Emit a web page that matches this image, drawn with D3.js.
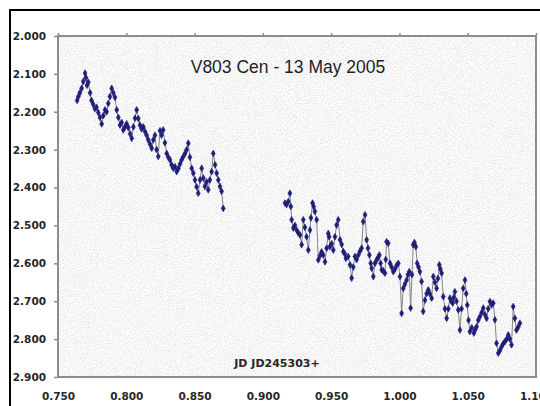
<!DOCTYPE html>
<html>
<head>
<meta charset="utf-8">
<script src="https://cdn.jsdelivr.net/npm/d3@7"></script>
<style>
  body { margin: 0; background: #fff; }
  svg { display: block; }
</style>
</head>
<body>
<div id="chart"></div>
<script>
(() => {
    // observing run 1 : [JD fraction, magnitude]
    const run1 = [
        [0.7640, 2.170], [0.7649, 2.160], [0.7660, 2.150], [0.7673, 2.138], [0.7685, 2.120],
        [0.7698, 2.098], [0.7705, 2.110], [0.7712, 2.130], [0.7722, 2.122], [0.7735, 2.150],
        [0.7745, 2.170], [0.7757, 2.180], [0.7770, 2.192], [0.7782, 2.188], [0.7795, 2.202],
        [0.7807, 2.215], [0.7820, 2.232], [0.7832, 2.210], [0.7844, 2.195], [0.7856, 2.200],
        [0.7868, 2.178], [0.7880, 2.160], [0.7893, 2.138], [0.7905, 2.150], [0.7917, 2.162],
        [0.7930, 2.195], [0.7942, 2.215], [0.7954, 2.235], [0.7966, 2.228], [0.7978, 2.248],
        [0.7990, 2.240], [0.8003, 2.232], [0.8015, 2.242], [0.8028, 2.258], [0.8040, 2.270],
        [0.8052, 2.240], [0.8064, 2.217], [0.8076, 2.195], [0.8088, 2.218], [0.8100, 2.235],
        [0.8112, 2.245], [0.8125, 2.240], [0.8137, 2.252], [0.8149, 2.262], [0.8161, 2.274],
        [0.8173, 2.285], [0.8186, 2.296], [0.8198, 2.274], [0.8210, 2.262], [0.8222, 2.300],
        [0.8234, 2.318], [0.8247, 2.250], [0.8258, 2.262], [0.8270, 2.248], [0.8283, 2.282],
        [0.8296, 2.310], [0.8308, 2.320], [0.8320, 2.327], [0.8332, 2.340], [0.8344, 2.349],
        [0.8357, 2.345], [0.8369, 2.358], [0.8381, 2.350], [0.8393, 2.338], [0.8405, 2.327],
        [0.8418, 2.318], [0.8430, 2.310], [0.8442, 2.300], [0.8454, 2.283], [0.8466, 2.320],
        [0.8479, 2.349], [0.8491, 2.362], [0.8503, 2.380], [0.8515, 2.398], [0.8527, 2.415],
        [0.8540, 2.380], [0.8552, 2.349], [0.8564, 2.375], [0.8576, 2.397], [0.8588, 2.385],
        [0.8600, 2.406], [0.8612, 2.380], [0.8625, 2.358], [0.8637, 2.310], [0.8650, 2.340],
        [0.8662, 2.362], [0.8674, 2.380], [0.8686, 2.397], [0.8698, 2.410], [0.8710, 2.455]
    ];

    // observing run 2
    const run2 = [
        [0.9162, 2.441], [0.9174, 2.445], [0.9186, 2.437], [0.9198, 2.415], [0.9205, 2.450],
        [0.9211, 2.485], [0.9223, 2.507], [0.9235, 2.500], [0.9247, 2.512], [0.9260, 2.520],
        [0.9272, 2.525], [0.9284, 2.551], [0.9296, 2.485], [0.9308, 2.505], [0.9320, 2.530],
        [0.9333, 2.565], [0.9345, 2.512], [0.9352, 2.480], [0.9364, 2.441], [0.9372, 2.450],
        [0.9381, 2.463], [0.9394, 2.485], [0.9406, 2.591], [0.9418, 2.580], [0.9430, 2.570],
        [0.9442, 2.578], [0.9455, 2.596], [0.9467, 2.560], [0.9479, 2.521], [0.9485, 2.530],
        [0.9491, 2.556], [0.9504, 2.548], [0.9516, 2.565], [0.9528, 2.530], [0.9540, 2.499],
        [0.9552, 2.485], [0.9565, 2.538], [0.9577, 2.550], [0.9589, 2.569], [0.9600, 2.575],
        [0.9608, 2.587], [0.9625, 2.582], [0.9638, 2.604], [0.9650, 2.639], [0.9662, 2.610],
        [0.9674, 2.582], [0.9687, 2.590], [0.9699, 2.578], [0.9711, 2.568], [0.9723, 2.560],
        [0.9735, 2.490], [0.9748, 2.472], [0.9760, 2.538], [0.9770, 2.560], [0.9780, 2.578],
        [0.9790, 2.600], [0.9797, 2.613], [0.9809, 2.635], [0.9821, 2.600], [0.9833, 2.591],
        [0.9843, 2.585], [0.9853, 2.578], [0.9862, 2.600], [0.9870, 2.617], [0.9882, 2.620],
        [0.9894, 2.626], [0.9900, 2.590], [0.9906, 2.543], [0.9918, 2.547], [0.9931, 2.600],
        [0.9943, 2.610], [0.9955, 2.622], [0.9968, 2.615], [0.9980, 2.605], [0.9992, 2.600],
        [1.0004, 2.635], [1.0016, 2.732], [1.0028, 2.666], [1.0040, 2.655], [1.0053, 2.644],
        [1.0062, 2.630], [1.0072, 2.622], [1.0082, 2.718], [1.0092, 2.630], [1.0101, 2.551],
        [1.0110, 2.545], [1.0120, 2.556], [1.0130, 2.600], [1.0140, 2.610], [1.0150, 2.622],
        [1.0162, 2.648], [1.0174, 2.727], [1.0187, 2.697], [1.0199, 2.680], [1.0211, 2.670],
        [1.0223, 2.680], [1.0236, 2.692], [1.0248, 2.635], [1.0260, 2.650], [1.0272, 2.666],
        [1.0282, 2.640], [1.0292, 2.604], [1.0300, 2.615], [1.0309, 2.626], [1.0321, 2.688],
        [1.0333, 2.720], [1.0346, 2.745], [1.0358, 2.720], [1.0370, 2.692], [1.0380, 2.700],
        [1.0390, 2.705], [1.0398, 2.690], [1.0406, 2.675], [1.0418, 2.700], [1.0431, 2.723],
        [1.0443, 2.776], [1.0455, 2.720], [1.0467, 2.666], [1.0480, 2.644], [1.0489, 2.680],
        [1.0497, 2.710], [1.0506, 2.750], [1.0516, 2.780], [1.0530, 2.770], [1.0545, 2.784],
        [1.0555, 2.775], [1.0565, 2.767], [1.0577, 2.750], [1.0589, 2.741], [1.0602, 2.730],
        [1.0614, 2.718], [1.0626, 2.735], [1.0638, 2.745], [1.0650, 2.720], [1.0663, 2.701],
        [1.0675, 2.710], [1.0687, 2.705], [1.0699, 2.749], [1.0711, 2.811], [1.0724, 2.837],
        [1.0736, 2.830], [1.0748, 2.820], [1.0760, 2.812], [1.0772, 2.807], [1.0785, 2.800],
        [1.0797, 2.789], [1.0809, 2.800], [1.0821, 2.815], [1.0833, 2.714], [1.0845, 2.745],
        [1.0857, 2.776], [1.0870, 2.768], [1.0882, 2.758]
    ];

    const xTicks = [0.75, 0.80, 0.85, 0.90, 0.95, 1.00, 1.05, 1.10];
    const yTicks = [2.0, 2.1, 2.2, 2.3, 2.4, 2.5, 2.6, 2.7, 2.8, 2.9];
    const title = "V803 Cen - 13 May 2005";
    const xTitle = "JD JD245303+";

    /****************************************************************************** */
    const width = 540;
    const height = 406;
    const plot = { left: 58, top: 36, right: 536, bottom: 377 };

    const svg = d3.select("#chart").append("svg")
        .attr("width", width)
        .attr("height", height);

    // speckled background
    const defs = svg.append("defs");
    const f = defs.append("filter")
        .attr("id", "speckle")
        .attr("x", 0).attr("y", 0).attr("width", 1).attr("height", 1);
    f.append("feTurbulence")
        .attr("type", "fractalNoise")
        .attr("baseFrequency", 0.85)
        .attr("numOctaves", 2)
        .attr("seed", 7);
    f.append("feColorMatrix")
        .attr("type", "matrix")
        .attr("values", "0.55 0 0 0 0.65  0.55 0 0 0 0.65  0.55 0 0 0 0.65  0 0 0 0 1");

    // outer frame
    svg.append("rect")
        .attr("x", 10).attr("y", 10)
        .attr("width", width + 10).attr("height", height + 10)
        .attr("fill", "#fff")
        .attr("stroke", "#000")
        .attr("stroke-width", 2);

    const x = d3.scaleLinear()
        .domain([0.75, 1.10])
        .range([plot.left, plot.right]);

    const y = d3.scaleLinear()
        .domain([2.0, 2.9])
        .range([plot.top, plot.bottom]);

    svg.append("rect")
        .attr("x", plot.left).attr("y", plot.top)
        .attr("width", plot.right - plot.left)
        .attr("height", plot.bottom - plot.top)
        .attr("fill", "#e8e8e8")
        .attr("filter", "url(#speckle)");

    svg.append("rect")
        .attr("x", plot.left).attr("y", plot.top)
        .attr("width", plot.right - plot.left)
        .attr("height", plot.bottom - plot.top)
        .attr("fill", "none")
        .attr("stroke", "#8c8c8c")
        .attr("stroke-width", 2);

    /**********************axes *****************************/
    const tickFont = g => g.selectAll("text")
        .attr("font-family", "DejaVu Sans, sans-serif")
        .attr("font-weight", "bold")
        .attr("font-size", "10.5px")
        .attr("fill", "#262626");

    const yAxis = svg.append("g")
        .attr("transform", `translate(${plot.left},0)`)
        .call(d3.axisLeft(y).tickValues(yTicks).tickFormat(d3.format(".3f")).tickSize(4).tickPadding(8));
    yAxis.select(".domain").remove();
    yAxis.selectAll("line").attr("stroke", "#8c8c8c").attr("stroke-width", 1.5);
    yAxis.call(tickFont);

    // x axis crosses at the top (magnitude reversed), labels sit low
    const xTop = svg.append("g")
        .attr("transform", `translate(0,${plot.top})`)
        .call(d3.axisTop(x).tickValues(xTicks).tickFormat("").tickSize(3));
    xTop.select(".domain").remove();
    xTop.selectAll("line").attr("stroke", "#8c8c8c").attr("stroke-width", 1.5);

    const xLabels = svg.append("g")
        .attr("transform", `translate(0,${plot.bottom})`)
        .call(d3.axisBottom(x).tickValues(xTicks).tickFormat(d3.format(".3f")).tickSize(0).tickPadding(16));
    xLabels.select(".domain").remove();
    xLabels.call(tickFont);

    svg.append("text")
        .attr("x", 288)
        .attr("y", 73)
        .attr("text-anchor", "middle")
        .attr("font-family", "Liberation Sans, Arial, sans-serif")
        .attr("font-size", "17.5px")
        .attr("fill", "#1e1e1e")
        .text(title);

    svg.append("text")
        .attr("x", 277)
        .attr("y", 367)
        .attr("text-anchor", "middle")
        .attr("font-family", "DejaVu Sans, sans-serif")
        .attr("font-weight", "bold")
        .attr("font-size", "11px")
        .attr("fill", "#262626")
        .text(xTitle);

    /********************** data *****************************/
    const line = d3.line()
        .x(d => x(d[0]))
        .y(d => y(d[1]));

    const runs = [run1, run2];

    svg.selectAll(".run")
        .data(runs)
        .join("path")
        .attr("class", "run")
        .attr("d", line)
        .attr("fill", "none")
        .attr("stroke", "#858585")
        .attr("stroke-width", 1);

    const marker = d3.symbol().type(d3.symbolDiamond).size(13);

    svg.selectAll(".pt")
        .data(run1.concat(run2))
        .join("path")
        .attr("class", "pt")
        .attr("transform", d => `translate(${x(d[0])},${y(d[1])})`)
        .attr("d", marker)
        .attr("fill", "#1d1d78")
        .attr("stroke", "#24247a")
        .attr("stroke-width", 0.7);
})()
</script>
</body>
</html>
